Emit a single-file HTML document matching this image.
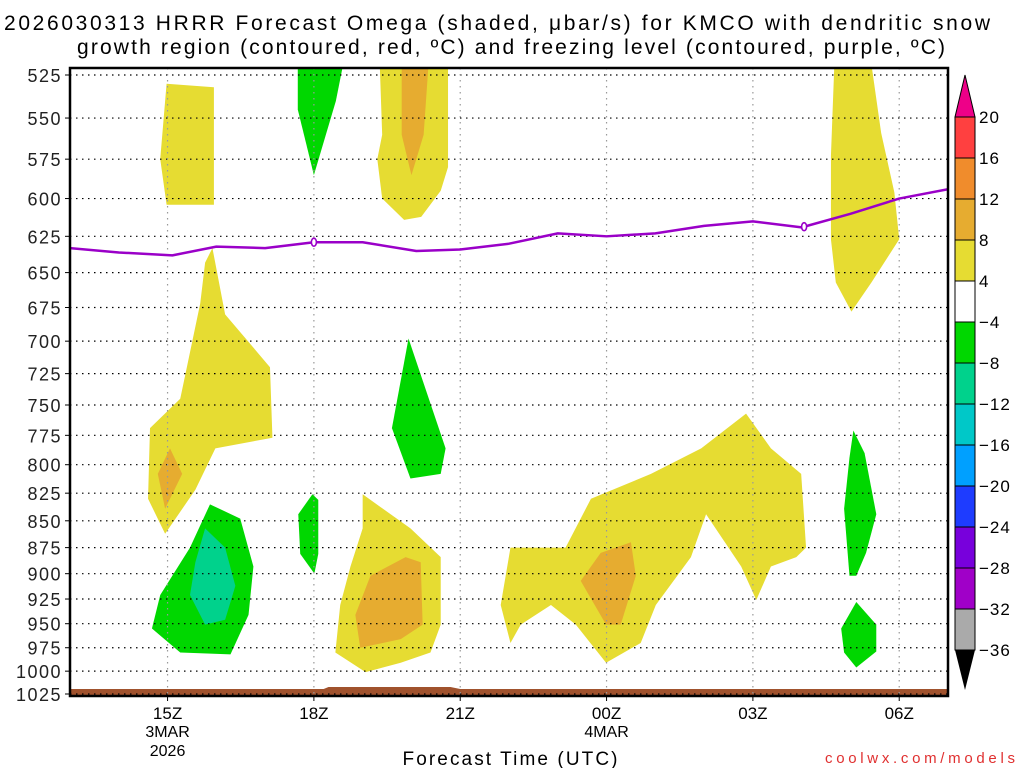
<!DOCTYPE html>
<html><head><meta charset="utf-8"><style>
body{margin:0;background:#fff;width:1024px;height:768px;overflow:hidden}
svg{display:block;font-family:"Liberation Sans","DejaVu Sans",sans-serif}
</style></head><body>
<svg id="c" width="1024" height="768">
<text x="497" y="30" font-size="21" text-anchor="middle" textLength="986" lengthAdjust="spacing">2026030313 HRRR Forecast Omega (shaded, μbar/s) for KMCO with dendritic snow</text>
<text x="511" y="54" font-size="21" text-anchor="middle" textLength="868" lengthAdjust="spacing">growth region (contoured, red, ºC) and freezing level (contoured, purple, ºC)</text>
<text x="510" y="765" font-size="19" text-anchor="middle" textLength="215" lengthAdjust="spacing">Forecast Time (UTC)</text>
<text x="1015" y="763" font-size="15" fill="#e03030" text-anchor="end" textLength="190" lengthAdjust="spacing">coolwx.com/models</text>
<g id="plot"></g>
</svg>
<script>
const pTicks=[525,550,575,600,625,650,675,700,725,750,775,800,825,850,875,900,925,950,975,1000,1025];
const xTicks=[15,18,21,24,27,30];
const xLabels=["15Z","18Z","21Z","00Z","03Z","06Z"];
const fzHours=[13,14,15.1,16,17,18,19,20.1,21,22,23,24,25,26,27,28,29,30,31];
const fzP=[633,636,638,632,633,629,629,635,634,630,623,625,623,618,615,619,610,600,594];
const cbLevels=["20","16","12","8","4","−4","−8","−12","−16","−20","−24","−28","−32","−36"];
const cbColors=["#ff4040","#f08c2c","#e6ac30","#e6dc32","#ffffff","#00d700","#00d28c","#00c8c8","#00a0ff","#1e3cff","#7800dc","#a000c8","#aaaaaa"];
const regions=[
 {c:"#e6dc32",pts:[[14.98,530],[15.95,532],[15.95,604],[14.98,604],[14.85,575],[14.95,540]]},
 {c:"#00d700",pts:[[17.67,519],[18.6,519],[18.45,540],[18.0,585],[17.67,545]]},
 {c:"#e6dc32",pts:[[19.35,519],[20.75,519],[20.75,580],[20.6,595],[20.2,612],[19.85,614],[19.4,600],[19.3,575],[19.4,560]]},
 {c:"#e6ac30",pts:[[19.8,519],[20.35,519],[20.25,560],[20.0,585],[19.8,560]]},
 {c:"#e6dc32",pts:[[28.67,519],[29.43,519],[29.63,559],[29.9,596],[30.0,627],[29.43,657],[29.02,678],[28.7,657],[28.6,627],[28.6,573]]},
 {c:"#e6dc32",pts:[[15.92,633],[16.18,680],[17.1,720],[17.15,777],[15.98,786],[15.57,822],[14.95,862],[14.6,830],[14.64,769],[15.26,745],[15.67,672],[15.77,643]]},
 {c:"#e6ac30",pts:[[15.05,786],[15.3,808],[14.95,839],[14.8,808]]},
 {c:"#00d700",pts:[[19.94,698],[20.7,786],[20.6,808],[19.98,812],[19.6,769]]},
 {c:"#00d700",pts:[[15.87,835],[16.49,848],[16.76,893],[16.66,941],[16.29,982],[15.26,980],[14.68,955],[14.85,921],[15.46,875]]},
 {c:"#00d28c",pts:[[15.77,857],[16.18,875],[16.39,912],[16.18,946],[15.77,951],[15.46,921],[15.57,889]]},
 {c:"#00d700",pts:[[17.97,826],[18.09,831],[18.09,881],[18.01,900],[17.72,881],[17.68,844]]},
 {c:"#e6dc32",pts:[[19.0,826],[19.98,857],[20.6,884],[20.6,951],[20.39,980],[19.78,991],[19.06,1001],[18.44,980],[18.54,931],[18.75,893],[19.0,857]]},
 {c:"#e6ac30",pts:[[19.88,884],[20.19,889],[20.23,951],[19.78,966],[18.95,975],[18.85,941],[19.16,902]]},
 {c:"#e6dc32",pts:[[22.03,875],[23.16,875],[23.68,830],[24.91,808],[25.94,786],[26.86,757],[27.37,786],[27.99,808],[28.09,875],[27.89,884],[27.37,893],[27.07,926],[26.76,893],[26.04,844],[25.73,884],[25.01,931],[24.7,970],[23.99,991],[23.37,951],[22.86,931],[22.24,951],[22.03,970],[21.83,931]]},
 {c:"#e6ac30",pts:[[23.88,880],[24.5,870],[24.6,902],[24.29,951],[23.99,951],[23.47,907]]},
 {c:"#00d700",pts:[[29.06,771],[29.29,790],[29.53,844],[29.32,880],[29.12,902],[28.98,902],[28.87,839],[28.98,794]]},
 {c:"#00d700",pts:[[29.12,928],[29.53,951],[29.53,979],[29.12,996],[28.87,980],[28.81,955]]}
];
const L=70,R=948,T=68,B=696;
const x=h=>L+(h-13)*(R-L)/18;
const y=p=>75+(Math.log(p)-Math.log(525))*(694-75)/(Math.log(1025)-Math.log(525));
const NS="http://www.w3.org/2000/svg";
const g=document.getElementById('plot');
function mk(t,a,parent){const e=document.createElementNS(NS,t);for(const k in a)e.setAttribute(k,a[k]);(parent||g).appendChild(e);return e;}
const defs=mk('defs',{});const cp=mk('clipPath',{id:'clip'},defs);mk('rect',{x:L,y:T,width:R-L,height:B-T},cp);
const shade=mk('g',{'clip-path':'url(#clip)'});


regions.forEach((r,i)=>{
 const e=mk('polygon',{points:r.pts.map(q=>x(q[0])+','+y(q[1])).join(' '),fill:r.c},shade);
 
 
});
const gr=mk('path',{d:`M${L},689 L${x(18.2)},689 L${x(18.3)},687 L${x(20.8)},687 L${x(21)},689 L${R},689 L${R},${B} L${L},${B}Z`,fill:'#a0522d'});


pTicks.forEach(p=>{
 const yy=y(p);
 const ln=mk('line',{x1:L,x2:R,y1:yy,y2:yy,stroke:'#000','stroke-width':1.2,'stroke-dasharray':'1.5,4.5'});
 
 
 const tk=mk('line',{x1:L-5,x2:L,y1:yy,y2:yy,stroke:'#000'});
 
 
 const t=mk('text',{x:L-8,y:yy+7,'font-size':18,'text-anchor':'end',fill:'#222','letter-spacing':1.5});t.textContent=p;
 
 
});
xTicks.forEach((h,i)=>{
 const xx=x(h);
 const ln=mk('line',{x1:xx,x2:xx,y1:T,y2:B,stroke:'#999','stroke-width':1.2,'stroke-dasharray':'1.5,4.5'});
 
 
 const tk=mk('line',{x1:xx,x2:xx,y1:B,y2:B+5,stroke:'#000'});
 
 
 const t=mk('text',{x:xx,y:719,'font-size':17,'text-anchor':'middle'});t.textContent=xLabels[i];
 
 
});
[["3MAR",15,737],["2026",15,756],["4MAR",24,737]].forEach(d=>{
 const t=mk('text',{x:x(d[1]),y:d[2],'font-size':16,'text-anchor':'middle'});t.textContent=d[0];
 
 
});
const fz=mk('polyline',{points:fzHours.map((h,i)=>x(h)+','+y(fzP[i])).join(' '),fill:'none',stroke:'#9a00c8','stroke-width':2.5,'stroke-linejoin':'round','clip-path':'url(#clip)'});


function fzAt(h){let i=fzHours.findIndex(v=>v>=h);if(i<=0)return fzP[0];const f=(h-fzHours[i-1])/(fzHours[i]-fzHours[i-1]);return fzP[i-1]+f*(fzP[i]-fzP[i-1]);}
[18,28.05].forEach(h=>{
 const e=mk('ellipse',{cx:x(h),cy:y(fzAt(h)),rx:2.5,ry:4,fill:'#fff',stroke:'#9a00c8','stroke-width':1.6});
 
 
});
const fr=mk('rect',{x:L,y:T,width:R-L,height:B-T,fill:'none',stroke:'#000','stroke-width':2.5});


const cbx=955,cbw=20,cb0=117,step=41;
const cb=mk('g',{});


const up=mk('polygon',{points:`${cbx},${cb0} ${cbx+cbw},${cb0} ${cbx+cbw/2},75`,fill:'#ee0088',stroke:'#000'},cb);


cbColors.forEach((c,i)=>{
 const r=mk('rect',{x:cbx,y:cb0+i*step,width:cbw,height:step,fill:c,stroke:'#000','stroke-width':1},cb);
 
 
});
const yb=cb0+cbColors.length*step;
const dn=mk('polygon',{points:`${cbx},${yb} ${cbx+cbw},${yb} ${cbx+cbw/2},${yb+40}`,fill:'#000'},cb);


cbLevels.forEach((s,i)=>{
 const t=mk('text',{x:979,y:cb0+i*step+6,'font-size':17,'letter-spacing':1},cb);t.textContent=s;
 
 
});
</script>
</body></html>
